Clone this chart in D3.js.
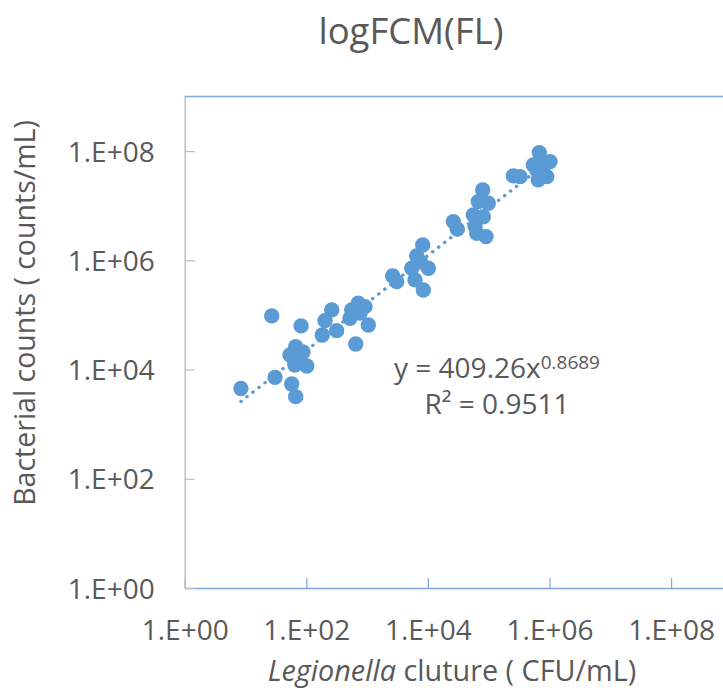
<!DOCTYPE html>
<html>
<head>
<meta charset="utf-8">
<script src="https://cdn.jsdelivr.net/npm/d3@7"></script>
<style>
  html, body { margin: 0; padding: 0; background: #fff; overflow: hidden; }
  svg { display: block; }
  text { font-family: "Open Sans", sans-serif; fill: #595959; }
</style>
</head>
<body>
<div id="chart"></div>
<script>
// ---- data ----
const chartTitle = "logFCM(FL)";
const xTitleItalic = "Legionella";
const xTitleRest = " cluture ( CFU/mL)";
const yTitle = "Bacterial counts ( counts/mL)";

const xValues = [8.4, 30.6, 57.5, 67, 27, 82, 67, 54, 69.5, 79, 102, 65, 88,
  262, 203, 316, 183, 650, 558, 717, 923, 523, 1047, 764,
  2636, 3069, 8210, 6540, 5420, 10160, 6140, 8400, 7550,
  26180, 30470, 79640, 67400, 98400, 55800, 81500, 63500, 90300, 59500,
  254000, 327000, 679000, 542000, 1020000, 791000, 654000, 900000, 791000, 615000];
const yValues = [4500, 7200, 5450, 3190, 96000, 63000, 26300, 18500, 18500, 14000, 11600, 12100, 21000,
  124000, 78700, 51600, 43000, 29400, 124000, 164000, 142000, 87000, 65600, 108000,
  518000, 407000, 1910000, 1200000, 716000, 716000, 438000, 287000, 935000,
  5120000, 3720000, 19500000, 11900000, 11100000, 6790000, 6300000, 3140000, 2720000, 4270000,
  35200000, 34100000, 94000000, 55800000, 64300000, 39400000, 29700000, 34100000, 64300000, 45300000];

const xTickValues = [1, 1e2, 1e4, 1e6, 1e8];
const xTickLabels = ["1.E+00", "1.E+02", "1.E+04", "1.E+06", "1.E+08"];
const yTickValues = [1, 1e2, 1e4, 1e6, 1e8];
const yTickLabels = ["1.E+00", "1.E+02", "1.E+04", "1.E+06", "1.E+08"];

const trendCoef = 409.26;
const trendExp = 0.8689;
const trendExpLabel = "0.8689";
const trendCoefLabel = "409.26";
const r2Label = "0.9511";

// ---- layout ----
const W = 723, H = 690;
const pLeft = 184.7, pRight = 731.9, pTop = 96.5, pBottom = 588;
const blue = "#5B9BD5";
const borderBlue = "#7DA9DC";

const svg = d3.select("#chart").append("svg").attr("width", W).attr("height", H);

const x = d3.scaleLog().domain([1, 1e9]).range([pLeft, pRight]);
const y = d3.scaleLog().domain([1, 1e9]).range([pBottom, pTop]);

// plot top border
svg.append("line")
  .attr("x1", pLeft).attr("x2", W).attr("y1", pTop).attr("y2", pTop)
  .attr("stroke", borderBlue).attr("stroke-width", 1.5);

// x axis (blue, ticks inside)
const xAxis = svg.append("g").attr("transform", `translate(0,${pBottom})`)
  .call(d3.axisBottom(x).tickValues(xTickValues).tickSizeInner(-10).tickSizeOuter(0)
    .tickFormat((d, i) => xTickLabels[i]));
xAxis.select(".domain").attr("stroke", borderBlue).attr("stroke-width", 1.5);
xAxis.selectAll(".tick line").attr("stroke", borderBlue).attr("stroke-width", 1.2);
xAxis.selectAll(".tick text").remove();
xAxis.selectAll(".tick").append("text")
  .attr("y", 52).attr("text-anchor", "middle")
  .style("font-size", "28px")
  .text((d, i) => xTickLabels[i]);

// y axis (gray, ticks inside)
const yAxis = svg.append("g").attr("transform", `translate(${pLeft},0)`)
  .call(d3.axisLeft(y).tickValues(yTickValues).tickSizeInner(-10).tickSizeOuter(0)
    .tickFormat((d, i) => yTickLabels[i]));
yAxis.select(".domain").attr("stroke", "#BFBFBF").attr("stroke-width", 1.5);
yAxis.selectAll(".tick line").attr("stroke", "#BFBFBF").attr("stroke-width", 1.2);
yAxis.selectAll(".tick text").remove();
yAxis.selectAll(".tick").append("text")
  .attr("x", -30).attr("y", 10).attr("text-anchor", "end")
  .style("font-size", "28px")
  .text((d, i) => yTickLabels[i]);

// clip for data
svg.append("clipPath").attr("id", "plotclip").append("rect")
  .attr("x", pLeft).attr("y", pTop).attr("width", pRight - pLeft).attr("height", pBottom - pTop);
const plot = svg.append("g").attr("clip-path", "url(#plotclip)");

// points
plot.selectAll("circle").data(xValues.map((v, i) => [v, yValues[i]]))
  .enter().append("circle")
  .attr("cx", d => x(d[0])).attr("cy", d => y(d[1]))
  .attr("r", 7.7).attr("fill", blue);

// power trendline
const xmin = d3.min(xValues), xmax = d3.max(xValues);
const trendPts = d3.range(0, 101).map(i => {
  const lx = Math.log10(xmin) + (Math.log10(xmax) - Math.log10(xmin)) * i / 100;
  const xv = Math.pow(10, lx);
  return [xv, trendCoef * Math.pow(xv, trendExp)];
});
plot.append("path").datum(trendPts)
  .attr("d", d3.line().x(d => x(d[0])).y(d => y(d[1])))
  .attr("fill", "none").attr("stroke", blue).attr("stroke-width", 3.3)
  .attr("stroke-linecap", "round").attr("stroke-dasharray", "0.3 7.3");

// equation
const eq = svg.append("text").attr("x", 497).attr("y", 378).attr("text-anchor", "middle")
  .style("font-size", "28px");
eq.append("tspan").text(`y = ${trendCoefLabel}x`);
eq.append("tspan").attr("dy", -9).style("font-size", "19px").text(trendExpLabel);
svg.append("text").attr("x", 497).attr("y", 414).attr("text-anchor", "middle")
  .style("font-size", "28px").text(`R² = ${r2Label}`);

// title
svg.append("text").attr("x", 411).attr("y", 44).attr("text-anchor", "middle")
  .style("font-size", "36.5px").text(chartTitle);

// x title
const xt = svg.append("text").attr("x", 452).attr("y", 681).attr("text-anchor", "middle")
  .style("font-size", "28.8px");
xt.append("tspan").style("font-style", "italic").text(xTitleItalic);
xt.append("tspan").text(xTitleRest);

// y title
svg.append("text").attr("transform", "translate(35,313) rotate(-90)")
  .attr("text-anchor", "middle").style("font-size", "28.5px").text(yTitle);
</script>
</body>
</html>
